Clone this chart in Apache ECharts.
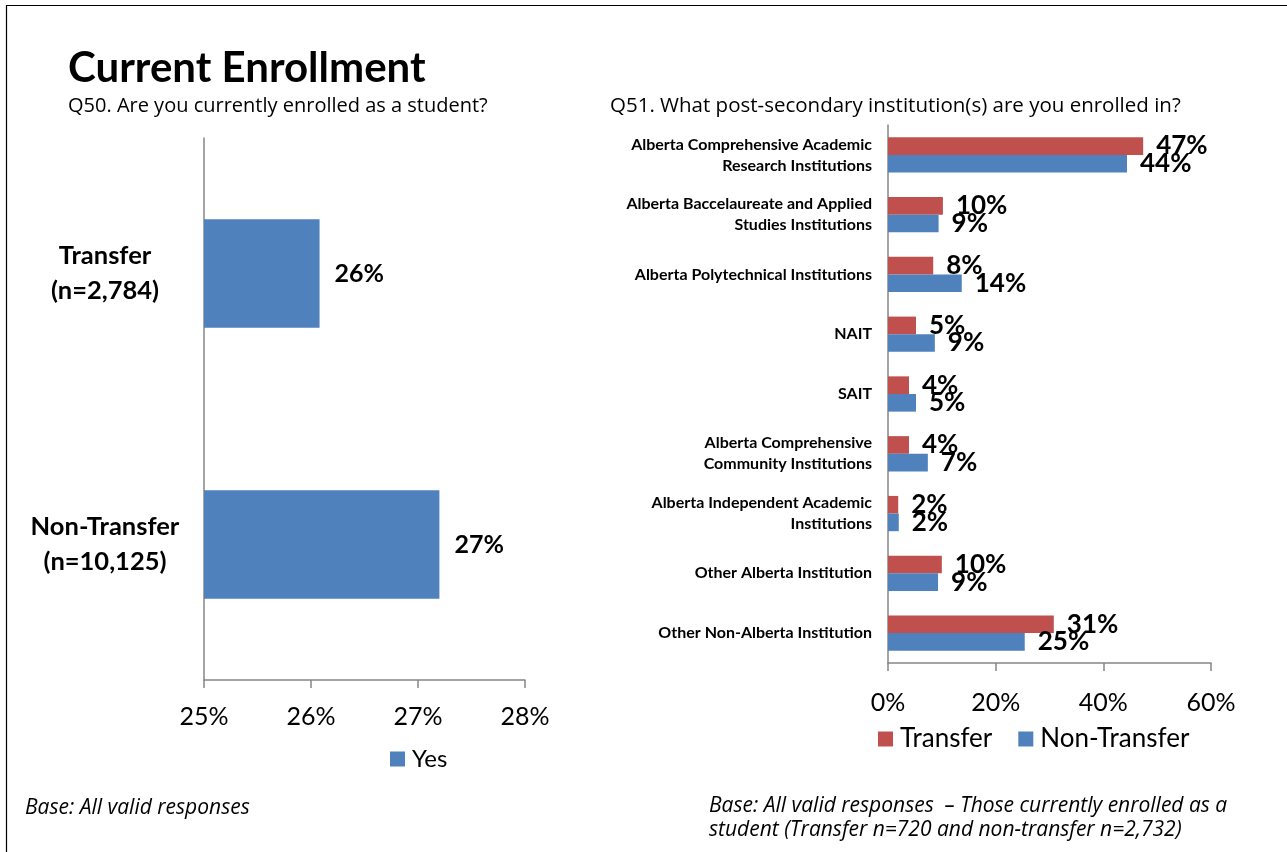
<!DOCTYPE html>
<html>
<head>
<meta charset="utf-8">
<script src="https://cdn.jsdelivr.net/npm/echarts@6/dist/echarts.min.js"></script>
<style>
  html, body { margin: 0; padding: 0; background: #fff; }
  #main { width: 1287px; height: 852px; }
</style>
</head>
<body>
<div id="main"></div>
<script>
// Q50 - left chart
const studentGroups = ['Transfer\n(n=2,784)', 'Non-Transfer\n(n=10,125)'];
const enrolledYes = [26.08, 27.2];
const leftTicks = [25, 26, 27, 28];

// Q51 - right chart
const institutions = [
  'Alberta Comprehensive Academic\nResearch Institutions',
  'Alberta Baccelaureate and Applied\nStudies Institutions',
  'Alberta Polytechnical Institutions',
  'NAIT',
  'SAIT',
  'Alberta Comprehensive\nCommunity Institutions',
  'Alberta Independent Academic\nInstitutions',
  'Other Alberta Institution',
  'Other Non-Alberta Institution'
];
const transferPct = [47.4, 10.2, 8.4, 5.2, 3.9, 3.9, 1.9, 10.0, 30.8];
const nonTransferPct = [44.4, 9.4, 13.7, 8.7, 5.2, 7.4, 2.0, 9.3, 25.4];
const rightTicks = [0, 20, 40, 60];

const FONT = 'Lato, "Open Sans", sans-serif';
const BODY = '"Open Sans", Lato, sans-serif';
const RED = '#C0504D';
const BLUE = '#4F81BD';
const AXIS = '#868686';

const pct = p => Math.round(p.value) + '%';

const chart = echarts.init(document.getElementById('main'));

chart.setOption({
  animation: false,
  textStyle: { fontFamily: FONT },
  graphic: [
    { type: 'rect', shape: { x: 6.5, y: 5.5, width: 1300, height: 900 },
      style: { fill: 'none', stroke: '#000', lineWidth: 1.2 } },
    { type: 'text', x: 68, y: 68, style: { text: 'Current Enrollment', font: 'bold 42px ' + FONT, fill: '#000', textVerticalAlign: 'middle' } },
    { type: 'text', x: 68, y: 106, style: { text: 'Q50. Are you currently enrolled as a student?', font: '20px ' + BODY, fill: '#000', textVerticalAlign: 'middle' } },
    { type: 'text', x: 610, y: 106, style: { text: 'Q51. What post-secondary institution(s) are you enrolled in?', font: '20.5px ' + BODY, fill: '#000', textVerticalAlign: 'middle' } },
    { type: 'text', x: 25, y: 808, style: { text: 'Base: All valid responses', font: 'italic 21px ' + BODY, fill: '#000', textVerticalAlign: 'middle' } },
    { type: 'text', x: 709, y: 806, style: { text: 'Base: All valid responses  \u2013 Those currently enrolled as a', font: 'italic 21px ' + BODY, fill: '#000', textVerticalAlign: 'middle' } },
    { type: 'text', x: 709, y: 830, style: { text: 'student (Transfer n=720 and non-transfer n=2,732)', font: 'italic 21px ' + BODY, fill: '#000', textVerticalAlign: 'middle' } }
  ],
  legend: [
    { data: ['Yes'], left: 385, top: 742, itemWidth: 15, itemHeight: 15, icon: 'rect',
      textStyle: { fontSize: 24, color: '#000', fontFamily: FONT, padding: [0, 0, 0, 2] } },
    { data: ['Transfer', 'Non-Transfer'], left: 873, top: 721, itemWidth: 15, itemHeight: 15, icon: 'rect', itemGap: 26,
      textStyle: { fontSize: 26, color: '#000', fontFamily: FONT, padding: [0, 0, 0, 2] } }
  ],
  grid: [
    { left: 204, top: 138, width: 321, height: 542 },
    { left: 888, top: 125, width: 323, height: 538 }
  ],
  xAxis: [
    { gridIndex: 0, type: 'value', min: leftTicks[0], max: leftTicks[leftTicks.length - 1], interval: 1,
      splitLine: { show: false },
      axisLine: { show: true, lineStyle: { color: AXIS, width: 1.5 } },
      axisTick: { show: true, length: 8, lineStyle: { color: AXIS, width: 1.5 } },
      axisLabel: { fontSize: 25, color: '#000', margin: 24, fontFamily: FONT, formatter: v => v + '%' } },
    { gridIndex: 1, type: 'value', min: rightTicks[0], max: rightTicks[rightTicks.length - 1], interval: 20,
      splitLine: { show: false },
      axisLine: { show: true, lineStyle: { color: AXIS, width: 1.5 } },
      axisTick: { show: true, length: 8, lineStyle: { color: AXIS, width: 1.5 } },
      axisLabel: { fontSize: 25, color: '#000', margin: 27, fontFamily: FONT, formatter: v => v + '%' } }
  ],
  yAxis: [
    { gridIndex: 0, type: 'category', data: studentGroups, inverse: true,
      axisLine: { lineStyle: { color: AXIS, width: 1.5 } },
      axisTick: { length: 8, lineStyle: { color: AXIS, width: 1.5 } },
      axisLabel: { fontSize: 25.5, fontWeight: 'bold', color: '#000', align: 'center', margin: 99, lineHeight: 35, fontFamily: FONT } },
    { gridIndex: 1, type: 'category', data: institutions, inverse: true,
      axisLine: { lineStyle: { color: AXIS, width: 1.5 } },
      axisTick: { length: 5, lineStyle: { color: AXIS, width: 1.5 } },
      axisLabel: { fontSize: 16, fontWeight: 'bold', color: '#000', align: 'right', margin: 16, lineHeight: 21, fontFamily: FONT } }
  ],
  series: [
    { name: 'Yes', type: 'bar', xAxisIndex: 0, yAxisIndex: 0, data: enrolledYes,
      barCategoryGap: '60%', itemStyle: { color: BLUE },
      label: { show: true, position: 'right', distance: 15, formatter: pct, fontSize: 25, fontWeight: 'bold', color: '#000', fontFamily: FONT } },
    { name: 'Transfer', type: 'bar', xAxisIndex: 1, yAxisIndex: 1, data: transferPct,
      barGap: '0%', barCategoryGap: '41%', itemStyle: { color: RED },
      label: { show: true, position: 'right', distance: 13, formatter: pct, fontSize: 26, fontWeight: 'bold', color: '#000', fontFamily: FONT } },
    { name: 'Non-Transfer', type: 'bar', xAxisIndex: 1, yAxisIndex: 1, data: nonTransferPct,
      barGap: '0%', barCategoryGap: '41%', itemStyle: { color: BLUE },
      label: { show: true, position: 'right', distance: 13, formatter: pct, fontSize: 26, fontWeight: 'bold', color: '#000', fontFamily: FONT } }
  ]
});
</script>
</body>
</html>
